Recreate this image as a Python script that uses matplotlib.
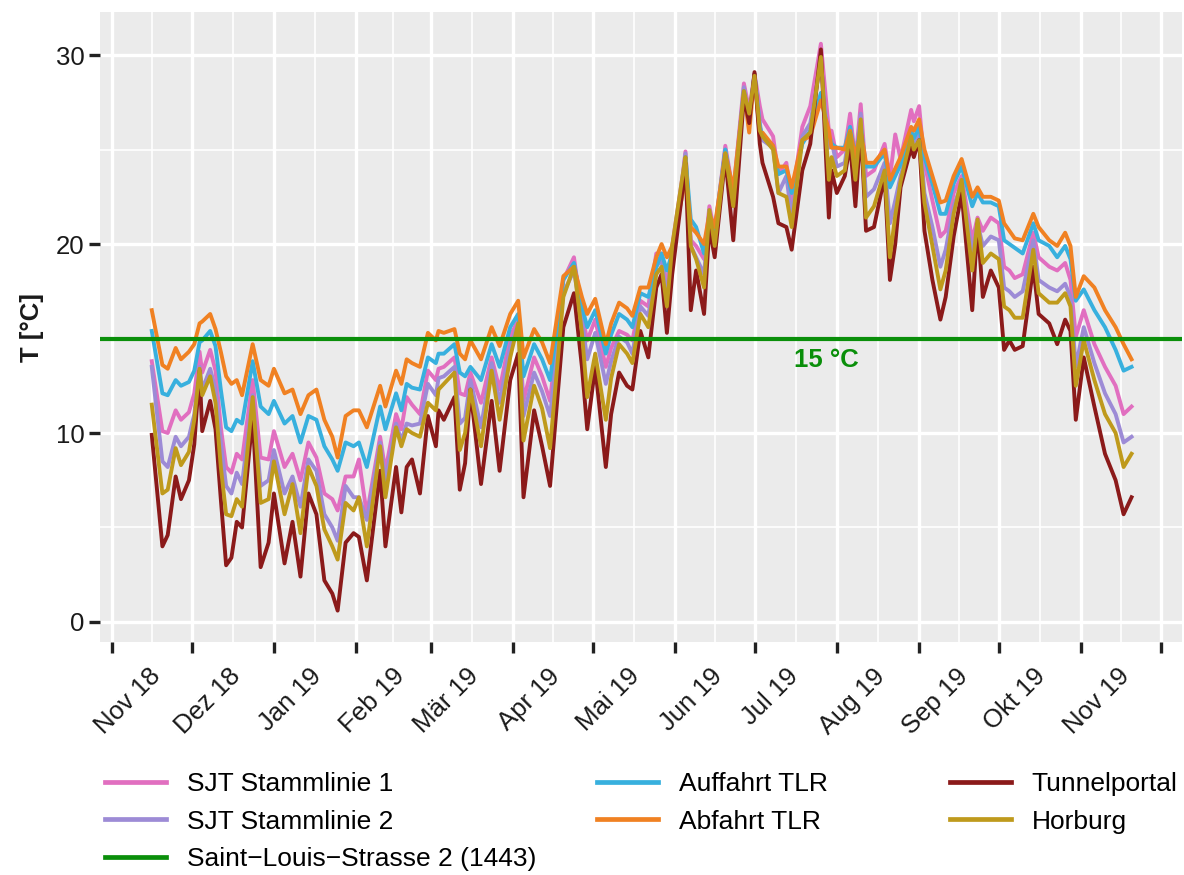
import numpy as np
import matplotlib
matplotlib.use("Agg")
import matplotlib.pyplot as plt
from matplotlib.lines import Line2D
from matplotlib.transforms import ScaledTranslation

plt.rcParams['font.family'] = ['Liberation Sans', 'DejaVu Sans']

# Tagesmittel, Tage ab 16.11.2018
start = np.datetime64('2018-11-16')
day = [0, 4, 6, 9, 11, 14, 16, 18, 19, 22, 24, 26, 28, 30, 32, 34, 38, 41, 44, 46,
       50, 53, 56, 59, 62, 65, 68, 70, 73, 76, 78, 81, 86, 88, 92, 94, 96, 98, 101, 104,
       107, 108, 110, 114, 116, 118, 120, 124, 128, 131, 135, 138, 140, 144, 147, 150, 155, 159, 162, 164,
       167, 171, 173, 176, 179, 181, 184, 187, 190, 192, 194, 196, 200, 201, 203, 205, 208, 210, 212, 216,
       219, 223, 225, 227, 229, 230, 234, 236, 239, 241, 245, 248, 252, 255, 256, 258, 261, 263, 265, 267,
       269, 272, 276, 278, 280, 282, 286, 287, 289, 291, 294, 297, 299, 302, 305, 309, 311, 313, 316, 319,
       321, 323, 325, 328, 332, 334, 338, 341, 344, 346, 348, 351, 355, 359, 363, 366, 369]

abfahrt = [16.5, 13.6, 13.4, 14.5, 13.9, 14.3, 14.7, 15.8, 15.9, 16.3, 15.5, 14.3, 13.0, 12.6, 12.8, 12.0, 14.7, 12.8, 12.5, 13.4,
           12.1, 12.3, 11.0, 12.0, 12.3, 10.7, 9.8, 8.7, 10.9, 11.2, 11.2, 10.3, 12.5, 11.4, 13.3, 12.6, 13.9, 13.7, 13.5, 15.3,
           14.9, 15.4, 15.3, 15.5, 14.2, 13.9, 14.9, 13.9, 15.6, 14.6, 16.3, 17.0, 14.0, 15.5, 14.8, 13.7, 18.3, 18.8, 17.2, 16.3,
           17.1, 14.7, 15.8, 16.9, 16.6, 16.2, 17.7, 17.7, 19.3, 20.0, 19.3, 19.9, 22.7, 24.1, 20.9, 20.6, 20.0, 21.6, 20.9, 24.8,
           22.9, 28.0, 25.9, 29.0, 25.7, 25.9, 25.2, 24.1, 24.1, 23.0, 25.5, 25.7, 27.6, 26.0, 25.1, 25.1, 25.0, 26.0, 24.6, 26.0,
           24.3, 24.3, 25.0, 23.4, 24.0, 24.6, 26.2, 26.0, 26.6, 25.0, 23.6, 22.2, 22.3, 23.6, 24.5, 22.5, 23.0, 22.5, 22.5, 22.3,
           21.1, 20.7, 20.3, 20.2, 21.6, 20.9, 20.2, 19.9, 20.6, 19.9, 17.2, 18.3, 17.7, 16.5, 15.6, 14.7, 13.9]

auffahrt = [15.4, 12.1, 12.0, 12.8, 12.5, 12.7, 13.3, 14.8, 14.9, 15.4, 14.6, 12.3, 10.3, 10.1, 10.7, 10.5, 13.8, 11.4, 11.0, 11.7,
            10.5, 10.9, 9.5, 10.9, 10.7, 9.3, 8.6, 8.0, 9.5, 9.3, 9.5, 8.2, 11.4, 10.2, 12.1, 11.2, 12.6, 12.4, 12.3, 14.0,
            13.7, 14.2, 14.2, 14.7, 13.2, 13.0, 13.5, 12.8, 14.7, 13.5, 15.6, 16.3, 13.0, 14.7, 13.9, 12.8, 18.1, 19.0, 16.7, 15.6,
            16.5, 14.2, 15.2, 16.3, 16.0, 15.6, 17.4, 17.2, 18.8, 19.5, 18.6, 19.5, 23.2, 24.6, 21.3, 20.9, 19.5, 21.4, 20.7, 25.0,
            22.5, 28.1, 26.4, 29.0, 26.2, 25.7, 25.2, 23.7, 23.9, 22.7, 25.3, 26.0, 28.0, 25.7, 25.3, 25.1, 25.1, 26.2, 24.6, 26.2,
            24.1, 24.1, 24.8, 23.0, 23.6, 24.2, 26.0, 25.6, 26.2, 24.6, 23.2, 21.6, 21.6, 23.2, 24.1, 22.0, 22.7, 22.2, 22.2, 22.0,
            20.2, 20.0, 19.8, 19.5, 21.1, 20.2, 19.9, 19.3, 19.9, 19.2, 17.0, 17.6, 16.5, 15.6, 14.4, 13.3, 13.5]

sjt1 = [13.8, 10.1, 10.0, 11.2, 10.7, 11.1, 12.1, 14.3, 13.2, 14.4, 13.3, 10.3, 8.2, 7.9, 8.9, 8.6, 12.8, 8.7, 8.6, 10.1,
        8.2, 8.9, 7.5, 9.5, 8.7, 6.8, 6.5, 5.9, 7.7, 7.7, 8.6, 5.7, 9.8, 8.0, 11.0, 10.2, 11.9, 11.5, 11.0, 13.3,
        12.8, 13.4, 13.5, 14.0, 12.1, 12.0, 13.2, 11.6, 14.0, 12.3, 15.1, 16.0, 11.7, 14.0, 13.0, 11.7, 18.1, 19.3, 16.3, 14.9,
        16.0, 13.5, 14.5, 15.4, 15.2, 14.9, 17.0, 16.7, 19.5, 19.5, 17.7, 19.9, 23.7, 24.9, 20.2, 19.9, 19.2, 22.0, 20.6, 25.2,
        22.7, 28.5, 27.1, 29.0, 27.3, 26.6, 25.7, 23.7, 24.3, 22.3, 26.2, 27.3, 30.6, 26.0, 26.0, 24.6, 25.0, 26.9, 24.4, 27.4,
        23.6, 23.9, 25.3, 23.5, 25.8, 24.5, 27.1, 26.5, 27.3, 24.3, 22.3, 20.4, 20.7, 22.7, 23.6, 20.2, 21.4, 20.7, 21.4, 21.1,
        18.8, 18.6, 18.2, 18.4, 20.6, 19.3, 18.8, 18.6, 19.0, 18.1, 15.1, 16.5, 14.7, 13.5, 12.5, 11.0, 11.4]

sjt2 = [13.5, 8.5, 8.2, 9.8, 9.3, 9.8, 11.0, 13.5, 12.3, 13.4, 12.3, 9.5, 7.2, 6.8, 7.9, 7.3, 12.0, 7.2, 7.5, 9.1,
        6.8, 7.7, 6.1, 8.6, 8.0, 5.7, 5.0, 4.3, 7.2, 6.6, 6.6, 5.4, 9.5, 7.5, 10.5, 9.6, 10.5, 10.4, 10.5, 12.6,
        12.0, 12.9, 13.0, 13.5, 10.5, 10.8, 12.8, 10.3, 13.7, 11.6, 14.6, 15.8, 10.9, 13.2, 12.2, 10.9, 17.4, 18.6, 16.0, 13.9,
        15.3, 12.6, 13.8, 15.1, 14.8, 14.2, 16.7, 16.2, 18.8, 19.2, 17.2, 19.7, 23.6, 24.8, 19.9, 19.3, 18.4, 21.8, 20.2, 25.0,
        22.3, 28.3, 26.7, 29.0, 26.4, 25.5, 25.1, 22.7, 23.6, 21.4, 25.7, 26.4, 29.6, 25.1, 25.5, 24.1, 24.3, 26.2, 23.9, 26.9,
        22.5, 22.9, 24.3, 21.1, 22.3, 23.6, 25.5, 25.2, 26.0, 22.7, 20.9, 18.8, 19.7, 22.0, 23.2, 19.5, 21.1, 19.9, 20.4, 20.2,
        17.7, 17.5, 17.2, 17.5, 20.2, 18.1, 17.7, 17.5, 17.9, 17.2, 13.5, 15.6, 13.7, 12.1, 11.0, 9.5, 9.8]

horburg = [11.5, 6.8, 7.0, 9.2, 8.3, 9.0, 10.7, 13.4, 12.0, 13.0, 11.6, 8.2, 5.7, 5.6, 6.5, 6.1, 11.9, 6.3, 6.5, 8.5,
           5.7, 7.3, 4.7, 8.2, 7.2, 4.9, 4.0, 3.3, 6.3, 5.9, 6.6, 4.0, 9.3, 6.6, 10.3, 9.3, 10.2, 10.0, 9.8, 11.6,
           11.2, 12.3, 12.6, 13.2, 9.1, 10.0, 12.3, 9.3, 13.3, 10.7, 14.0, 15.8, 9.6, 12.5, 11.3, 9.2, 17.2, 18.8, 15.3, 11.9,
           14.2, 10.7, 12.9, 14.7, 14.2, 13.7, 16.3, 15.6, 18.4, 18.8, 16.7, 19.9, 23.7, 24.6, 19.9, 19.2, 17.7, 21.8, 19.9, 24.8,
           22.0, 28.1, 26.9, 28.9, 26.0, 25.7, 25.0, 22.7, 22.5, 20.9, 25.5, 25.9, 29.9, 23.4, 24.6, 23.6, 23.9, 25.9, 23.4, 26.6,
           21.4, 22.0, 23.9, 19.3, 21.5, 23.3, 25.7, 25.0, 25.5, 22.2, 19.9, 17.6, 18.6, 21.6, 23.4, 18.6, 21.3, 19.0, 19.5, 19.2,
           16.7, 16.5, 16.1, 16.1, 19.7, 17.4, 16.9, 16.9, 17.4, 16.7, 12.5, 14.9, 12.8, 11.0, 10.0, 8.2, 8.9]

tunnelportal = [9.9, 4.0, 4.6, 7.7, 6.5, 7.5, 9.4, 13.3, 10.1, 11.7, 10.2, 6.5, 3.0, 3.4, 5.3, 5.0, 10.9, 2.9, 4.2, 6.8,
                3.1, 5.3, 2.4, 6.8, 5.7, 2.2, 1.5, 0.6, 4.2, 4.7, 4.5, 2.2, 8.0, 4.0, 8.2, 5.8, 8.2, 8.6, 6.8, 10.9,
                9.3, 11.2, 10.7, 11.9, 7.0, 8.4, 12.3, 7.3, 11.7, 8.0, 12.8, 14.2, 6.6, 11.2, 9.3, 7.2, 15.6, 17.4, 13.5, 10.2,
                13.5, 8.2, 11.0, 13.2, 12.5, 12.3, 15.4, 14.0, 17.7, 18.4, 15.3, 18.4, 23.0, 24.3, 16.5, 18.6, 16.3, 20.9, 19.3, 24.6,
                20.2, 27.8, 26.4, 29.1, 25.3, 24.3, 22.5, 21.1, 20.9, 19.7, 23.9, 25.3, 30.3, 21.4, 23.9, 22.7, 23.6, 25.3, 22.0, 26.2,
                20.7, 20.9, 23.6, 18.1, 20.0, 23.0, 25.1, 24.6, 25.5, 20.7, 18.1, 16.0, 17.2, 20.4, 22.7, 16.5, 21.1, 17.2, 18.6, 17.7,
                14.4, 14.9, 14.4, 14.6, 18.8, 16.3, 15.8, 14.7, 16.0, 15.4, 10.7, 14.0, 11.4, 8.9, 7.5, 5.7, 6.6]

schwelle = 15.0
month_labels = ['Nov 18', 'Dez 18', 'Jan 19', 'Feb 19', 'Mär 19', 'Apr 19', 'Mai 19',
                'Jun 19', 'Jul 19', 'Aug 19', 'Sep 19', 'Okt 19', 'Nov 19', '']

# Farben
c_sjt1 = '#E16FC0'
c_sjt2 = '#9D8BD6'
c_green = '#0A8F0A'
c_auf = '#38B0DE'
c_ab = '#F08122'
c_tunnel = '#8B1A1A'
c_hor = '#BF9A1C'

dates = start + np.array(day, dtype='timedelta64[D]')

fig = plt.figure(figsize=(11.84, 8.75), dpi=100)
ax = fig.add_axes([100 / 1184, 1 - 642 / 875, 1082 / 1184, 630 / 875])
ax.set_facecolor('#EBEBEB')
for s in ax.spines.values():
    s.set_visible(False)

lw = 2.8
for vals, c in [(sjt1, c_sjt1), (sjt2, c_sjt2), (auffahrt, c_auf), (abfahrt, c_ab),
                (tunnelportal, c_tunnel), (horburg, c_hor)]:
    ax.plot(dates, vals, color=c, lw=lw, zorder=3, solid_joinstyle='round')
ax.axhline(schwelle, color=c_green, lw=3, zorder=4)
ax.text(np.datetime64('2019-07-28'), schwelle - 1.15, '15 °C', color=c_green,
        fontsize=18.5, fontweight='bold', ha='center', va='center', zorder=5)

# Achsen
ax.set_xlim(np.datetime64('2018-10-27T12'), np.datetime64('2019-12-09'))
ax.set_ylim(-1.06, 32.28)

months = np.arange(np.datetime64('2018-11'), np.datetime64('2020-01'),
                   dtype='datetime64[M]').astype('datetime64[D]')
ax.set_xticks(months)
ax.set_xticklabels(month_labels)
mnum = matplotlib.dates.date2num(months)
ax.set_xticks((mnum[:-1] + mnum[1:]) / 2, minor=True)
ax.set_yticks([0, 10, 20, 30])
ax.set_yticks([5, 15, 25], minor=True)

ax.grid(which='major', color='white', lw=2.4, zorder=0)
ax.grid(which='minor', color='white', lw=1.2, zorder=0)
ax.set_axisbelow(True)

ax.tick_params(axis='both', which='major', length=8, width=2.4, color='#222222',
               labelsize=18.5, labelcolor='#1a1a1a')
ax.tick_params(axis='x', which='major', pad=8)
ax.tick_params(axis='y', which='major', pad=3)
ax.tick_params(which='minor', length=0)

for lab in ax.get_xticklabels():
    lab.set_rotation(45)
    lab.set_ha('center')
    lab.set_transform(lab.get_transform() + ScaledTranslation(0.16, 0, fig.dpi_scale_trans))

ax.set_ylabel('T [°C]', fontsize=18.5, fontweight='bold', color='#1a1a1a')
ax.yaxis.set_label_coords(-0.052, 0.5)

# Legende in drei Spalten
def h(c):
    return Line2D([], [], color=c, lw=3.4)

cols = [
    (105, [h(c_sjt1), h(c_sjt2), h(c_green)],
     ['SJT Stammlinie 1', 'SJT Stammlinie 2', 'Saint−Louis−Strasse 2 (1443)']),
    (597, [h(c_auf), h(c_ab)], ['Auffahrt TLR', 'Abfahrt TLR']),
    (950, [h(c_tunnel), h(c_hor)], ['Tunnelportal', 'Horburg']),
]
for xpx, hs, ls in cols:
    fig.legend(hs, ls, loc='upper left', bbox_to_anchor=(xpx / 1184, 1 - 772 / 875),
               frameon=False, fontsize=19, handlelength=2.3, handletextpad=0.8,
               labelspacing=0.52, borderpad=0, borderaxespad=0)

fig.savefig('out.png', dpi=100)
